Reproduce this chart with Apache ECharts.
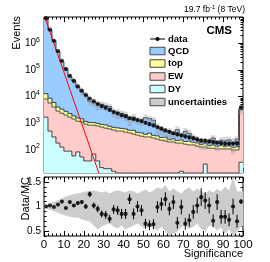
<!DOCTYPE html>
<html><head><meta charset="utf-8">
<script src="https://cdn.jsdelivr.net/npm/echarts@6/dist/echarts.min.js"></script>
<style>html,body{margin:0;padding:0;background:#fff}#c{width:270px;height:262px}</style>
</head><body><div id="c"></div>
<script>
// ---- data ----
const binCenters = [1,3,5,7,9,11,13,15,17,19,21,23,25,27,29,31,33,35,37,39,41,43,45,47,49,51,53,55,57,59,61,63,65,67,69,71,73,75,77,79,81,83,85,87,89,91,93,95,97,99];
const dataCounts = [8500000,3200000,1230000,510000,220000,107000,60000,39000,24000,16600,11500,8500,6600,5250,4400,3800,3160,2630,2340,2000,1820,1580,1450,1320,1200,1050,930,830,725,630,550,480,425,390,355,325,300,275,250,230,225,210,200,190,182,175,175,175,178,4000];
const qcd = [8487000,3128000,1236000,486000,196600,107500,52700,36300,20800,13700,10300,5730,5400,4526,4264,3707,3437,2090,1867,1707,1524,824,1156,863,867,1226,1073,942,393,305,176,254,127,353,119,291,203,114,59,31,23,58,127,36,79,84,95,49,122,325];
const topVals = [4770,2960,1960,1190,990,780,640,460,385,360,242,219,219,206,188,210,159,146,163,133,149,113,152,94,106,80,118,73,82,61,83,51,63,47,58,43,59,40,45,33,49,31,38,28,41,28,35,26,32,149];
const ew = [6430,5240,3760,2700,2270,1950,1610,1385,1115,1065,894,812,780,755,702,641,597,546,500,501,458,427,390,355,325,304,304,277,253,230,215,197,197,179,166,163,152,153,139,127,99,115,115,108,108,108,108,98,98,3127];
const dy = [1700,513,309,182,129,91,91,60,85,55,39,39,71,39,22,20,20,16,13,12,10,10,8,8,6,5,5,5,4,4,4,3,3,3,16,3,3,2,2,2,30,2,2,2,2,2,2,2,2,35];
const ratio = [1.0,1.02,0.99,1.04,1.1,0.97,1.09,1.02,1.07,1.09,1.0,1.25,1.02,0.95,0.85,0.83,0.75,0.94,0.92,0.85,0.85,1.15,0.85,1.0,0.92,0.65,0.62,0.64,0.99,1.05,1.15,0.95,1.09,0.67,0.99,0.65,0.72,0.89,1.02,1.19,1.12,1.02,0.71,1.09,0.79,0.79,0.73,1.0,0.70,1.1];
const ratioErr = [0.005,0.006,0.008,0.01,0.015,0.02,0.025,0.03,0.035,0.04,0.05,0.06,0.06,0.07,0.07,0.08,0.08,0.09,0.09,0.1,0.1,0.1,0.11,0.11,0.11,0.1,0.1,0.1,0.12,0.13,0.14,0.13,0.14,0.12,0.15,0.12,0.13,0.14,0.16,0.18,0.17,0.16,0.13,0.16,0.14,0.14,0.13,0.16,0.13,0.05];
const uncHi = [1.03,1.06,1.09,1.12,1.16,1.2,1.22,1.25,1.26,1.28,1.3,1.3,1.32,1.3,1.28,1.3,1.26,1.3,1.32,1.3,1.28,1.32,1.3,1.26,1.3,1.34,1.28,1.32,1.38,1.35,1.42,1.3,1.36,1.3,1.26,1.34,1.38,1.3,1.36,1.3,1.26,1.32,1.28,1.35,1.3,1.4,1.32,1.58,1.3,1.3];
const uncLo = [0.97,0.94,0.91,0.88,0.84,0.82,0.8,0.78,0.78,0.74,0.72,0.7,0.62,0.55,0.6,0.64,0.66,0.6,0.56,0.62,0.54,0.58,0.62,0.66,0.6,0.55,0.62,0.58,0.52,0.6,0.5,0.42,0.45,0.5,0.58,0.62,0.55,0.6,0.66,0.55,0.5,0.62,0.6,0.52,0.58,0.45,0.55,0.4,0.5,0.6];
const redLineX = [0, 28];
const redLineY = [11700000, 11];
const logMajorTicks = [100, 1000, 10000, 100000, 1000000];
const ratioMajorTicks = [0.5, 1, 1.5];
const legendNames = ['data', 'QCD', 'top', 'EW', 'DY', 'uncertainties'];

// ---- styling ----
const FONT = 'Liberation Sans, Arial, Helvetica, sans-serif';
const C_QCD = '#99ccff', C_TOP = '#ffff99', C_EW = '#ffcccc', C_DY = '#ccffff', C_UNC = '#cccccc';
const BIN_HALF = 1;

const N = binCenters.length;
const cumDY = dy.slice();
const cumEW = cumDY.map((v, i) => v + ew[i]);
const cumTop = cumEW.map((v, i) => v + topVals[i]);
const cumQCD = cumTop.map((v, i) => v + qcd[i]);

function layer(lo, hi) {
  return binCenters.map((x, i) => [x, lo ? lo[i] : 1, hi[i], i > 0 ? hi[i - 1] : hi[i]]);
}
function clampY(cs, y) { return Math.max(cs.y, Math.min(cs.y + cs.height, y)); }
function histRender(fill) {
  return function (params, api) {
    const cs = params.coordSys;
    const xc = api.value(0);
    const pLo = api.coord([xc - BIN_HALF, api.value(1)]);
    const pHi = api.coord([xc + BIN_HALF, api.value(2)]);
    const pPrev = api.coord([xc - BIN_HALF, api.value(3)]);
    const xL = pLo[0], xR = pHi[0];
    const yH = clampY(cs, pHi[1]), yL = clampY(cs, pLo[1]), yP = clampY(cs, pPrev[1]);
    return { type: 'group', children: [
      { type: 'rect', shape: { x: xL, y: yH, width: xR - xL, height: Math.max(0, yL - yH) }, style: { fill: fill, stroke: fill, lineWidth: 0.8 } },
      { type: 'polyline', z2: 5, shape: { points: [[xL, yP], [xL, yH], [xR, yH]] }, style: { stroke: '#222', lineWidth: 0.8, fill: null } }
    ]};
  };
}
function boxRender(fill) {
  return function (params, api) {
    const cs = params.coordSys;
    const xc = api.value(0);
    const pLo = api.coord([xc - BIN_HALF, api.value(1)]);
    const pHi = api.coord([xc + BIN_HALF, api.value(2)]);
    const yH = clampY(cs, pHi[1]), yL = clampY(cs, pLo[1]);
    return { type: 'rect', shape: { x: pLo[0], y: yH, width: pHi[0] - pLo[0], height: Math.max(0, yL - yH) }, style: { fill: fill } };
  };
}
function errRender(params, api) {
  const cs = params.coordSys;
  const xc = api.value(0);
  const a = api.coord([xc, api.value(1)]), b = api.coord([xc, api.value(2)]);
  return { type: 'line', shape: { x1: a[0], y1: clampY(cs, a[1]), x2: b[0], y2: clampY(cs, b[1]) }, style: { stroke: '#000', lineWidth: 1 } };
}
function bandRender(params, api) {
  const cs = params.coordSys;
  const p1 = api.coord([api.value(0), api.value(1)]);
  const p2 = api.coord([api.value(0), api.value(2)]);
  const p3 = api.coord([api.value(3), api.value(5)]);
  const p4 = api.coord([api.value(3), api.value(4)]);
  const pts = [p1, p2, p3, p4].map(p => [p[0], clampY(cs, p[1])]);
  return { type: 'polygon', shape: { points: pts }, style: { fill: C_UNC, stroke: C_UNC, lineWidth: 0.6 } };
}

// band points (ratio): flat half-bin at both ends, straight between bin centres
const bandPts = [[0, uncLo[0], uncHi[0]]].concat(binCenters.map((x, i) => [x, uncLo[i], uncHi[i]])).concat([[100, uncLo[N - 1], uncHi[N - 1]]]);
const bandSegs = [];
for (let i = 0; i < bandPts.length - 1; i++) {
  bandSegs.push([bandPts[i][0], bandPts[i][1], bandPts[i][2], bandPts[i + 1][0], bandPts[i + 1][1], bandPts[i + 1][2]]);
}

const minorLog = [];
for (let e = 1; e <= 6; e++) for (let m = 2; m <= 9; m++) minorLog.push(m * Math.pow(10, e));

const LOGMIN = 13.8, LOGMAX = 9.55e6;

function xAx(grid, pos, labels) {
  return {
    type: 'value', gridIndex: grid, position: pos, min: 0, max: 100, interval: 10,
    axisLine: { show: false }, splitLine: { show: false },
    axisTick: { show: true, inside: true, length: 5, lineStyle: { color: '#000', width: 1 } },
    minorTick: { show: true, splitNumber: 5, length: 2.5, lineStyle: { color: '#000', width: 1 } },
    axisLabel: { show: labels, color: '#000', fontFamily: FONT, fontSize: 11.5, margin: 3 }
  };
}
function logAx(pos, major, labels) {
  return {
    type: 'log', logBase: 10, gridIndex: 0, position: pos, min: LOGMIN, max: LOGMAX,
    axisLine: { show: false }, splitLine: { show: false }, minorTick: { show: false },
    axisTick: { show: true, inside: true, length: major ? 5 : 2.5, customValues: major ? logMajorTicks : minorLog, lineStyle: { color: '#000', width: 1 } },
    axisLabel: { show: labels, customValues: logMajorTicks, margin: 4,
      formatter: v => '{b|10}{s|' + Math.round(Math.log10(v)) + '}',
      rich: { b: { fontSize: 10, lineHeight: 14, fontFamily: FONT, color: '#000' }, s: { fontSize: 7, lineHeight: 7, verticalAlign: 'top', fontFamily: FONT, color: '#000' } } }
  };
}
function ratioAx(pos, major, labels) {
  const ax = {
    type: 'value', gridIndex: 1, position: pos, min: 0.4, max: 1.6,
    axisLine: { show: false }, splitLine: { show: false }, minorTick: { show: false },
    axisTick: { show: true, inside: true, length: major ? 5 : 2.5, lineStyle: { color: '#000', width: 1 } },
    axisLabel: { show: labels, color: '#000', fontFamily: FONT, fontSize: 10, margin: 3 }
  };
  if (major) { ax.axisTick.customValues = ratioMajorTicks; ax.axisLabel.customValues = ratioMajorTicks; }
  else { ax.interval = 0.1; }
  return ax;
}

const chart = echarts.init(document.getElementById('c'), null, { renderer: 'canvas', width: 270, height: 262 });

const legendRowsY = [39, 51, 63.5, 76.5, 89, 102];
const legendFills = [null, C_QCD, C_TOP, C_EW, C_DY, C_UNC];
const graphics = [];
legendNames.forEach((name, i) => {
  const y = legendRowsY[i];
  if (i === 0) {
    graphics.push({ type: 'line', shape: { x1: 150, y1: y, x2: 165, y2: y }, style: { stroke: '#000', lineWidth: 1 } });
    graphics.push({ type: 'circle', shape: { cx: 157.5, cy: y, r: 2 }, style: { fill: '#000' } });
  } else {
    graphics.push({ type: 'rect', shape: { x: 150, y: y - 3.75, width: 15, height: 7.5 }, style: { fill: legendFills[i], stroke: '#444', lineWidth: 1 } });
  }
  graphics.push({ type: 'text', x: 168, y: y, style: { text: name, fontFamily: FONT, fontSize: 9.5, fontWeight: 'bold', fill: '#000', verticalAlign: 'middle', align: 'left' } });
});
graphics.push({ type: 'text', x: 232, y: 31, style: { text: 'CMS', fontFamily: FONT, fontSize: 11.5, fontWeight: 'bold', fill: '#000', verticalAlign: 'middle', align: 'right' } });
graphics.push({ type: 'text', x: 245, y: 10, style: { text: '19.7 fb{s|-1} (8 TeV)', rich: { s: { fontSize: 6, verticalAlign: 'top', lineHeight: 6, fontFamily: FONT, fill: '#000' } }, fontFamily: FONT, fontSize: 8.5, lineHeight: 11, fill: '#000', verticalAlign: 'middle', align: 'right' } });
graphics.push({ type: 'text', x: 17, y: 16, rotation: Math.PI / 2, style: { text: 'Events', fontFamily: FONT, fontSize: 11, fill: '#000', verticalAlign: 'middle', align: 'right' } });
graphics.push({ type: 'text', x: 26, y: 177, rotation: Math.PI / 2, style: { text: 'Data/MC', fontFamily: FONT, fontSize: 11, fill: '#000', verticalAlign: 'middle', align: 'right' } });
graphics.push({ type: 'text', x: 243, y: 254, style: { text: 'Significance', fontFamily: FONT, fontSize: 11, fill: '#000', verticalAlign: 'middle', align: 'right' } });

const option = {
  animation: false,
  backgroundColor: '#fff',
  textStyle: { fontFamily: FONT },
  grid: [
    { left: 44, top: 17, width: 199, height: 156, show: true, borderColor: '#000', borderWidth: 1, backgroundColor: 'transparent' },
    { left: 44, top: 177, width: 199, height: 59, show: true, borderColor: '#000', borderWidth: 1, backgroundColor: 'transparent' }
  ],
  xAxis: [xAx(0, 'bottom', false), xAx(0, 'top', false), xAx(1, 'bottom', true), xAx(1, 'top', false)],
  yAxis: [logAx('left', true, true), logAx('left', false, false), logAx('right', true, false), logAx('right', false, false),
          ratioAx('left', true, true), ratioAx('left', false, false), ratioAx('right', true, false), ratioAx('right', false, false)],
  series: [
    { name: 'DY', type: 'custom', xAxisIndex: 0, yAxisIndex: 0, z: 2, renderItem: histRender(C_DY), data: layer(null, cumDY) },
    { name: 'EW', type: 'custom', xAxisIndex: 0, yAxisIndex: 0, z: 2, renderItem: histRender(C_EW), data: layer(cumDY, cumEW) },
    { name: 'top', type: 'custom', xAxisIndex: 0, yAxisIndex: 0, z: 2, renderItem: histRender(C_TOP), data: layer(cumEW, cumTop) },
    { name: 'QCD', type: 'custom', xAxisIndex: 0, yAxisIndex: 0, z: 2, renderItem: histRender(C_QCD), data: layer(cumTop, cumQCD) },
    { name: 'uncertainties', type: 'custom', xAxisIndex: 0, yAxisIndex: 0, z: 3, renderItem: boxRender('rgba(150,150,150,0.38)'),
      data: binCenters.map((x, i) => [x, cumQCD[i] * uncLo[i], cumQCD[i] * uncHi[i]]) },
    { name: 'fit', type: 'line', xAxisIndex: 0, yAxisIndex: 0, z: 4, showSymbol: false, clip: true,
      lineStyle: { color: '#ff0000', width: 1 }, data: redLineX.map((x, i) => [x, redLineY[i]]) },
    { name: 'data err', type: 'custom', xAxisIndex: 0, yAxisIndex: 0, z: 5, renderItem: errRender,
      data: binCenters.map((x, i) => [x, dataCounts[i] * (1 - ratioErr[i] / ratio[i]), dataCounts[i] * (1 + ratioErr[i] / ratio[i])]) },
    { name: 'data', type: 'scatter', xAxisIndex: 0, yAxisIndex: 0, z: 6, symbolSize: 4.2, itemStyle: { color: '#000' },
      data: binCenters.map((x, i) => [x, dataCounts[i]]) },
    { name: 'ratio band', type: 'custom', xAxisIndex: 2, yAxisIndex: 4, z: 2, renderItem: bandRender, data: bandSegs },
    { name: 'ratio err', type: 'custom', xAxisIndex: 2, yAxisIndex: 4, z: 5, renderItem: errRender,
      data: binCenters.map((x, i) => [x, ratio[i] - ratioErr[i], ratio[i] + ratioErr[i]]) },
    { name: 'ratio', type: 'scatter', xAxisIndex: 2, yAxisIndex: 4, z: 6, symbolSize: 4.2, itemStyle: { color: '#000' },
      data: binCenters.map((x, i) => [x, ratio[i]]) }
  ],
  graphic: graphics
};
chart.setOption(option);
</script></body></html>
